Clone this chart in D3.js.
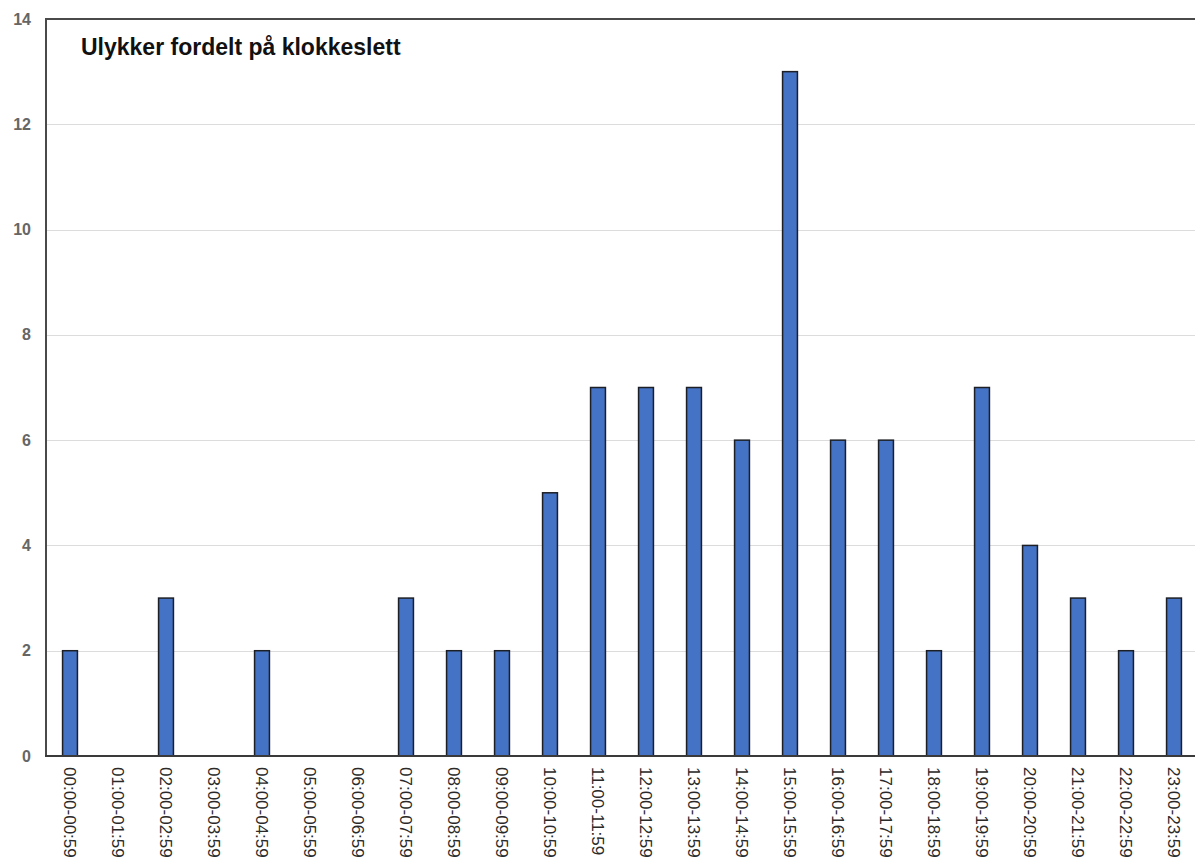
<!DOCTYPE html>
<html>
<head>
<meta charset="utf-8">
<script src="https://cdn.jsdelivr.net/npm/d3@7"></script>
<style>
  html, body { margin: 0; padding: 0; background: #fff; }
  svg { display: block; font-family: "Liberation Sans", Arial, sans-serif; }
</style>
</head>
<body>
<svg id="chart" width="1195" height="864"></svg>
<script>
// Hourly intervals and accident counts
const categories = [
  "00:00-00:59","01:00-01:59","02:00-02:59","03:00-03:59","04:00-04:59","05:00-05:59",
  "06:00-06:59","07:00-07:59","08:00-08:59","09:00-09:59","10:00-10:59","11:00-11:59",
  "12:00-12:59","13:00-13:59","14:00-14:59","15:00-15:59","16:00-16:59","17:00-17:59",
  "18:00-18:59","19:00-19:59","20:00-20:59","21:00-21:59","22:00-22:59","23:00-23:59"
];
const counts = [2,0,3,0,2,0,0,3,2,2,5,7,7,7,6,13,6,6,2,7,4,3,2,3];
const yTicks = [0,2,4,6,8,10,12,14];
const title = "Ulykker fordelt på klokkeslett";

const svg = d3.select("#chart");
const plotLeft = 46, plotRight = 1198, plotTop = 19, plotBottom = 756;

const x = d3.scaleBand().domain(categories).range([plotLeft, plotRight]).paddingInner(0.69).paddingOuter(0.345);
const y = d3.scaleLinear().domain([0, 14]).range([plotBottom, plotTop]);

// Gridlines
svg.append("g")
  .selectAll("line")
  .data(yTicks.filter(d => d > 0 && d < 14))
  .join("line")
  .attr("x1", plotLeft).attr("x2", 1195)
  .attr("y1", d => Math.round(y(d)) + 0.5).attr("y2", d => Math.round(y(d)) + 0.5)
  .attr("stroke", "#dcdcdc").attr("stroke-width", 1);

// Y axis labels
const yAxis = d3.axisLeft(y).tickValues(yTicks).tickSize(0).tickPadding(15);
const gy = svg.append("g").attr("transform", `translate(${plotLeft},0)`).call(yAxis);
gy.select(".domain").remove();
gy.selectAll("text")
  .attr("fill", "#666").attr("font-size", 16).attr("font-weight", "bold")
  .attr("font-family", "'Liberation Sans', Arial, sans-serif");

// Bars
svg.append("g")
  .selectAll("rect")
  .data(categories.map((c, i) => ({ c, v: counts[i] })).filter(d => d.v > 0))
  .join("rect")
  .attr("x", d => x(d.c))
  .attr("y", d => y(d.v))
  .attr("width", x.bandwidth())
  .attr("height", d => y(0) - y(d.v))
  .attr("fill", "#4472c4")
  .attr("stroke", "#1c1f26")
  .attr("stroke-width", 1.5);

// X axis labels (rotated, reading downward)
const xAxis = d3.axisBottom(x).tickSize(0).tickPadding(0);
const gx = svg.append("g").attr("transform", `translate(0,${plotBottom})`).call(xAxis);
gx.select(".domain").remove();
gx.selectAll("text")
  .attr("fill", "#2a2a2a").attr("font-size", 17)
  .attr("font-family", "'Liberation Sans', Arial, sans-serif")
  .attr("text-anchor", "start")
  .attr("dy", "0.35em")
  .attr("transform", "translate(0,11) rotate(90)")
  .attr("x", 0).attr("y", 0);

// Frame: left axis, bottom axis, top border
svg.append("line").attr("x1", plotLeft).attr("x2", plotLeft).attr("y1", plotTop).attr("y2", plotBottom)
  .attr("stroke", "#4a4a4a").attr("stroke-width", 2);
svg.append("line").attr("x1", plotLeft - 1).attr("x2", 1195).attr("y1", plotBottom).attr("y2", plotBottom)
  .attr("stroke", "#3a3a3a").attr("stroke-width", 2);
svg.append("line").attr("x1", plotLeft - 1).attr("x2", 1195).attr("y1", plotTop).attr("y2", plotTop)
  .attr("stroke", "#4a4a4a").attr("stroke-width", 2);

// Title
svg.append("text")
  .attr("x", 81).attr("y", 55)
  .attr("font-size", 23).attr("font-weight", "bold").attr("fill", "#111")
  .text(title);
</script>
</body>
</html>
